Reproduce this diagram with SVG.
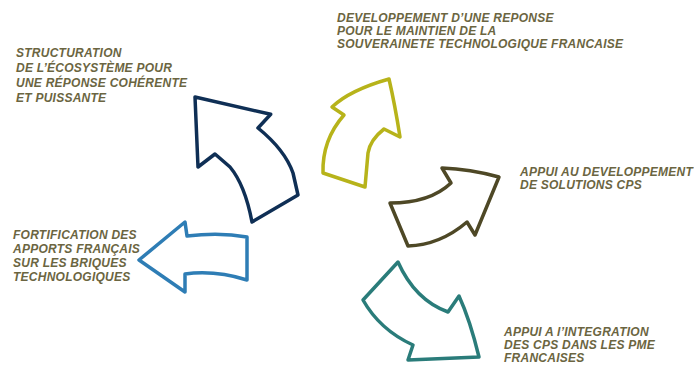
<svg xmlns="http://www.w3.org/2000/svg" width="694" height="365" viewBox="0 0 694 365">
<style>
.lbl{font-family:"Liberation Sans",Arial,sans-serif;font-size:12px;letter-spacing:0.25px;font-weight:bold;font-style:italic;fill:#6b6541}
.arr{fill:#fff;stroke-width:3.5;stroke-linejoin:round}
</style>
<rect width="694" height="365" fill="#fff"/>
<g id="connectors">
<g id="arrow-navy"><path class="arr" stroke="#0f2f55" d="M195,97 L270.7,114.3 L258,128 Q285,150 293,173 L298,195 L252,222 Q245,185 230,167 L215,154 L198,167 Z"/></g>
<g id="arrow-yellow"><path class="arr" stroke="#b7b31a" d="M389,79 Q395,105 400,137 L384,129 Q370,140 368,153 L365,187 L323,173 Q322,140 344,115 L332,107 Q350,90 389,79 Z"/></g>
<g id="arrow-olive"><path class="arr" stroke="#4e4826" d="M499,177 Q470,169 442,168 L451,183 Q430,203 390,203 L408,246 Q440,245 467,222 L475,235 Z"/></g>
<g id="arrow-blue"><path class="arr" stroke="#2e7db5" d="M139,260 L185,222 L187,236 Q220,232 247,237 L247,280 Q215,270 185,274 L185,292 Z"/></g>
<g id="arrow-teal"><path class="arr" stroke="#2a7c7a" d="M398,262 Q415,300 448,312 L459,296 Q470,320 479,357 L408,360 L413,345 Q380,330 363,300 Z"/></g>
</g>
<g id="n1"><text class="lbl"><tspan x="16" y="57">STRUCTURATION</tspan><tspan x="16" y="72">DE L’ÉCOSYSTÈME POUR</tspan><tspan x="16" y="87">UNE RÉPONSE COHÉRENTE</tspan><tspan x="16" y="102">ET PUISSANTE</tspan></text></g>
<g id="n2"><text class="lbl"><tspan x="337" y="22">DEVELOPPEMENT D’UNE REPONSE</tspan><tspan x="337" y="35">POUR LE MAINTIEN DE LA</tspan><tspan x="337" y="48">SOUVERAINETE TECHNOLOGIQUE FRANCAISE</tspan></text></g>
<g id="n3"><text class="lbl"><tspan x="520" y="176">APPUI AU DEVELOPPEMENT</tspan><tspan x="520" y="189">DE SOLUTIONS CPS</tspan></text></g>
<g id="n4"><text class="lbl"><tspan x="13" y="239">FORTIFICATION DES</tspan><tspan x="13" y="253">APPORTS FRANÇAIS</tspan><tspan x="13" y="267">SUR LES BRIQUES</tspan><tspan x="13" y="281">TECHNOLOGIQUES</tspan></text></g>
<g id="n5"><text class="lbl"><tspan x="504" y="336">APPUI A l’INTEGRATION</tspan><tspan x="504" y="349">DES CPS DANS LES PME</tspan><tspan x="504" y="362">FRANCAISES</tspan></text></g>
</svg>
